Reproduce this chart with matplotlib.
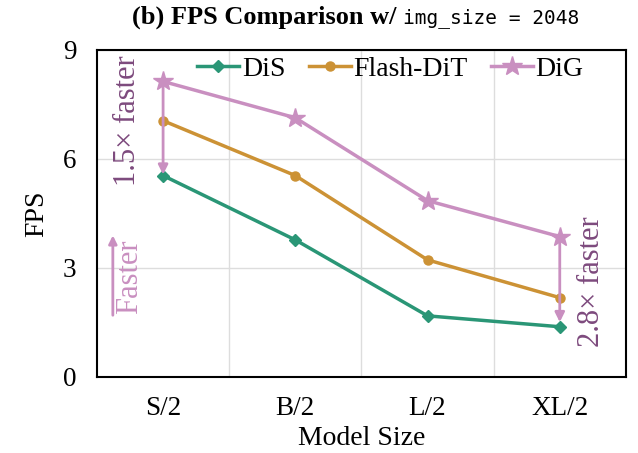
import matplotlib.pyplot as plt

# data
models = ["S/2", "B/2", "L/2", "XL/2"]
dis = [5.54, 3.77, 1.68, 1.38]
flash_dit = [7.05, 5.54, 3.22, 2.18]
dig = [8.13, 7.13, 4.85, 3.86]

green = "#2a9676"
orange = "#cc9235"
pink = "#c98fc0"
purple = "#7d4a7d"

plt.rcParams["font.family"] = ["Liberation Serif", "DejaVu Serif"]

fig, ax = plt.subplots(figsize=(6.38, 4.53), dpi=100)
fig.subplots_adjust(left=0.152, right=0.981, top=0.89, bottom=0.168)

x = list(range(len(models)))
ax.plot(x, dis, color=green, marker="D", markersize=6.5, linewidth=2.5, label="DiS")
ax.plot(x, flash_dit, color=orange, marker="o", markersize=6.5, linewidth=2.5, label="Flash-DiT")
ax.plot(x, dig, color=pink, marker="*", markersize=15, linewidth=2.5, label="DiG")

ax.set_xlim(-0.5, 3.5)
ax.set_ylim(0, 9)
ax.set_yticks([0, 3, 6, 9])
ax.set_xticks(x)
ax.set_xticklabels(models)
ax.set_xticks([0.5, 1.5, 2.5], minor=True)
ax.tick_params(axis="both", which="both", length=0, labelsize=19.5)
ax.tick_params(axis="x", pad=14)
ax.tick_params(axis="y", pad=15)
ax.grid(False)
ax.grid(True, axis="y", which="major", color="#dddddd", linewidth=1)
ax.grid(True, axis="x", which="minor", color="#dddddd", linewidth=1)
ax.set_axisbelow(True)
for s in ax.spines.values():
    s.set_linewidth(1.5)

ax.set_xlabel("Model Size", fontsize=20, labelpad=3)
ax.set_ylabel("FPS", fontsize=20, labelpad=10)

# title: bold serif + monospace part
fig.text(0.632, 0.962, "(b) FPS Comparison w/ ", fontsize=19, fontweight="bold", ha="right", va="center")
fig.text(0.632, 0.96, "img_size = 2048", fontsize=14, family="DejaVu Sans Mono", ha="left", va="center")

ax.legend(loc="upper center", ncol=3, frameon=False, fontsize=20, bbox_to_anchor=(0.555, 1.03),
          handlelength=1.5, handletextpad=0.1, columnspacing=0.85, borderaxespad=0.2)

# speedup arrows
ax.annotate("", xy=(0, dis[0] - 0.05), xytext=(0, dig[0]),
            arrowprops=dict(arrowstyle="-|>", color=pink, lw=2, mutation_scale=14))
ax.annotate("", xy=(3, dis[3] + 0.05), xytext=(3, dig[3]),
            arrowprops=dict(arrowstyle="-|>", color=pink, lw=2, mutation_scale=14))
ax.text(-0.27, 7.05, "1.5× faster", rotation=90, color=purple, fontsize=22, ha="center", va="center")
ax.text(3.24, 2.62, "2.8× faster", rotation=90, color=purple, fontsize=22, ha="center", va="center")

# "Faster" arrow on the left
ax.annotate("", xy=(-0.38, 3.97), xytext=(-0.38, 1.62),
            arrowprops=dict(arrowstyle="-|>", color=pink, lw=2, mutation_scale=12))
ax.text(-0.25, 2.75, "Faster", rotation=90, color=pink, fontsize=22, ha="center", va="center")

fig.savefig("out.png")
